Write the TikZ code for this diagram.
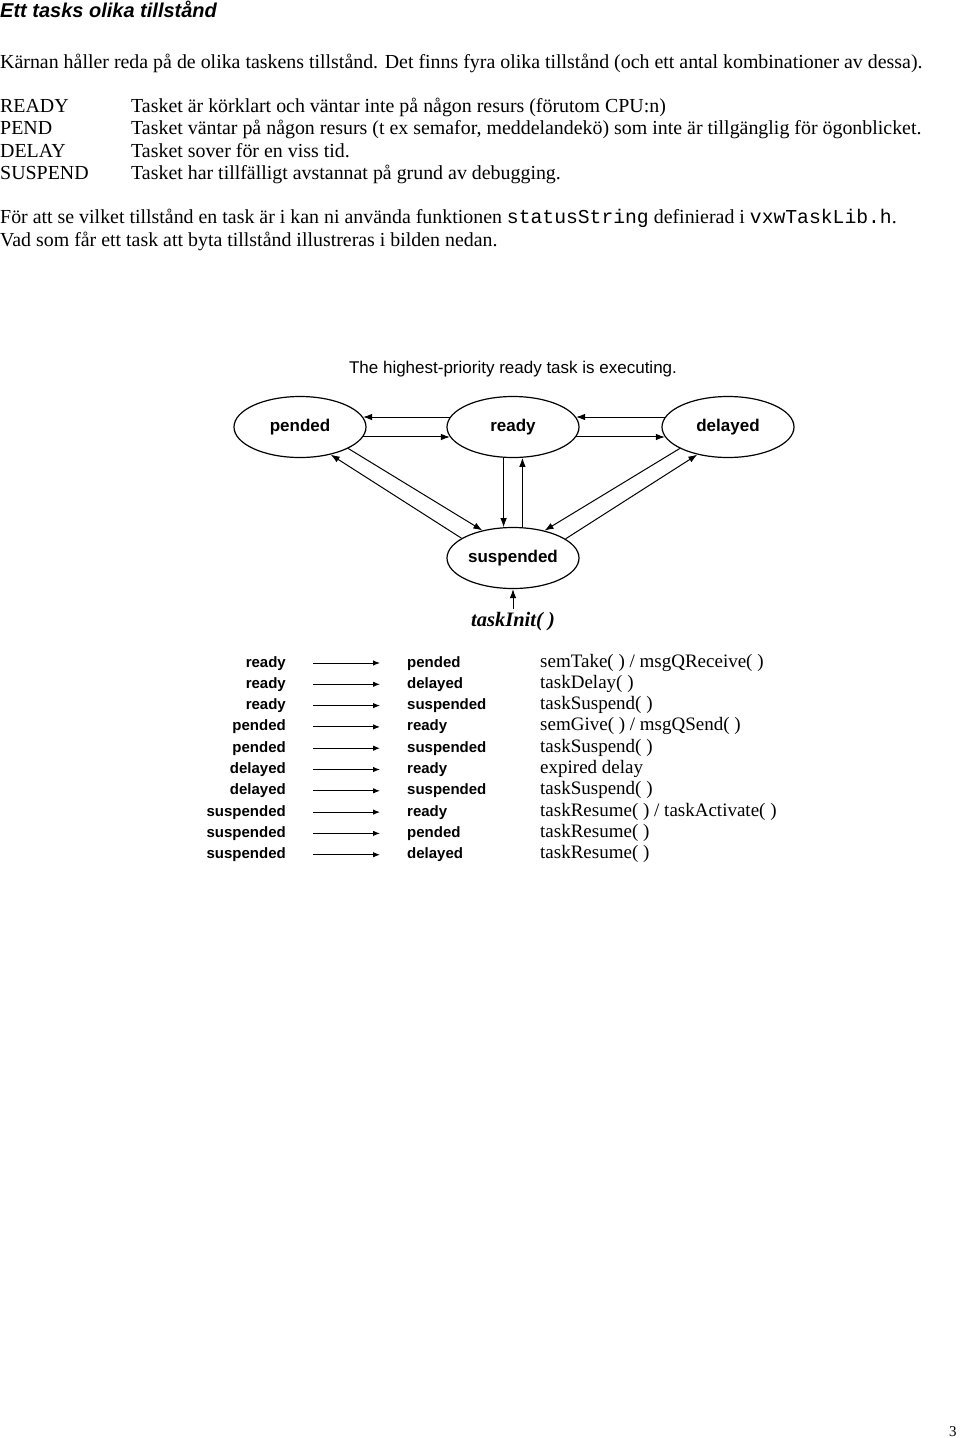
\documentclass[tikz,border=0pt]{standalone}
\usepackage{fontspec}
\setmainfont{Liberation Serif}
\setsansfont{Liberation Sans}
\setmonofont{Liberation Mono}
\usepackage{tikz}
\usetikzlibrary{shapes, arrows.meta}

\newcommand{\fsz}[1]{\fontsize{#1}{#1}\selectfont}
\newcommand{\code}[1]{{\fsz{19.7}\ttfamily #1}}

\begin{document}
\begin{tikzpicture}[x=1pt, y=-1pt,
        txt/.style = {anchor=base west, inner sep=0, font=\fsz{19.9}},
        main/.style = {draw, ellipse, line width=1.2pt, minimum width=132pt, minimum height=61pt,
                inner sep=0, font=\sffamily\bfseries\fsz{17}},
        edge/.style = {-{Latex[length=9pt, width=6.5pt]}, line width=1pt},
        lft/.style = {anchor=east, inner sep=0, text height=11pt, text depth=3pt, font=\sffamily\bfseries\fsz{15}},
        mid/.style = {anchor=west, inner sep=0, text height=11pt, text depth=3pt, font=\sffamily\bfseries\fsz{15}},
        fn/.style = {anchor=west, inner sep=0, text height=11pt, text depth=3pt, font=\fsz{19}},
        tarrow/.style = {-{Latex[length=7pt, width=5.5pt]}, line width=1pt, shorten <=27pt, shorten >=27pt}]
        \useasboundingbox (0, 0) rectangle (960, 1438);

        % text above the picture
        \node[txt, font=\sffamily\bfseries\itshape\fsz{20}] at (0, 17.5) (head) {Ett tasks olika tillstånd};
        \node[txt] at (0, 68) (intro) {Kärnan håller reda på de olika taskens tillstånd. Det finns fyra olika tillstånd (och ett antal kombinationer av dessa).};
        \node[txt] at (0, 112) (kready) {READY};
        \node[txt] at (131, 112) (dready) {Tasket är körklart och väntar inte på någon resurs (förutom CPU:n)};
        \node[txt] at (0, 134.5) (kpend) {PEND};
        \node[txt] at (131, 134.5) (dpend) {Tasket väntar på någon resurs (t ex semafor, meddelandekö) som inte är tillgänglig för ögonblicket.};
        \node[txt] at (0, 157) (kdelay) {DELAY};
        \node[txt] at (131, 157) (ddelay) {Tasket sover för en viss tid.};
        \node[txt] at (0, 179.5) (ksusp) {SUSPEND};
        \node[txt] at (131, 179.5) (dsusp) {Tasket har tillfälligt avstannat på grund av debugging.};
        \node[txt] at (0, 223) (hint) {För att se vilket tillstånd en task är i kan ni använda funktionen \code{statusString} definierad i \code{vxwTaskLib.h}.};
        \node[txt] at (0, 246) (hint2) {Vad som får ett task att byta tillstånd illustreras i bilden nedan.};

        % state diagram
        \node[font=\sffamily\fsz{17}] at (513, 369) (title) {The highest-priority ready task is executing.};
        \node[main] at (300, 427) (P) {pended};
        \node[main] at (513, 427) (R) {ready};
        \node[main] at (728, 427) (D) {delayed};
        \node[main] at (513, 558) (S) {suspended};
        \node[font=\bfseries\itshape\fsz{20.5}] at (513, 622) (init) {taskInit( )};

        \draw[edge] (R.171) -- (P.9);
        \draw[edge] (P.-9) -- (R.189);
        \draw[edge] (D.171) -- (R.9);
        \draw[edge] (R.-9) -- (D.189);
        \draw[edge] (R.253) -- (S.107);
        \draw[edge] (S.73) -- (R.287);
        \draw[edge] (P.-24.7) -- (S.138.6);
        \draw[edge] (S.159.4) -- (P.-42);
        \draw[edge] (D.204.7) -- (S.41.4);
        \draw[edge] (S.20.6) -- (D.222);
        \draw[edge] (init) -- (S);

        % table of transitions
        \node[lft] at (286, 663) (f1) {ready};
        \node[mid] at (407, 663) (t1) {pended};
        \node[fn] at (540, 663) (c1) {semTake( ) / msgQReceive( )};
        \node[lft] at (286, 684.3) (f2) {ready};
        \node[mid] at (407, 684.3) (t2) {delayed};
        \node[fn] at (540, 684.3) (c2) {taskDelay( )};
        \node[lft] at (286, 705.6) (f3) {ready};
        \node[mid] at (407, 705.6) (t3) {suspended};
        \node[fn] at (540, 705.6) (c3) {taskSuspend( )};
        \node[lft] at (286, 726.9) (f4) {pended};
        \node[mid] at (407, 726.9) (t4) {ready};
        \node[fn] at (540, 726.9) (c4) {semGive( ) / msgQSend( )};
        \node[lft] at (286, 748.2) (f5) {pended};
        \node[mid] at (407, 748.2) (t5) {suspended};
        \node[fn] at (540, 748.2) (c5) {taskSuspend( )};
        \node[lft] at (286, 769.5) (f6) {delayed};
        \node[mid] at (407, 769.5) (t6) {ready};
        \node[fn] at (540, 769.5) (c6) {expired delay};
        \node[lft] at (286, 790.8) (f7) {delayed};
        \node[mid] at (407, 790.8) (t7) {suspended};
        \node[fn] at (540, 790.8) (c7) {taskSuspend( )};
        \node[lft] at (286, 812.1) (f8) {suspended};
        \node[mid] at (407, 812.1) (t8) {ready};
        \node[fn] at (540, 812.1) (c8) {taskResume( ) / taskActivate( )};
        \node[lft] at (286, 833.4) (f9) {suspended};
        \node[mid] at (407, 833.4) (t9) {pended};
        \node[fn] at (540, 833.4) (c9) {taskResume( )};
        \node[lft] at (286, 854.7) (f10) {suspended};
        \node[mid] at (407, 854.7) (t10) {delayed};
        \node[fn] at (540, 854.7) (c10) {taskResume( )};

        \draw[tarrow] (f1) -- (t1);
        \draw[tarrow] (f2) -- (t2);
        \draw[tarrow] (f3) -- (t3);
        \draw[tarrow] (f4) -- (t4);
        \draw[tarrow] (f5) -- (t5);
        \draw[tarrow] (f6) -- (t6);
        \draw[tarrow] (f7) -- (t7);
        \draw[tarrow] (f8) -- (t8);
        \draw[tarrow] (f9) -- (t9);
        \draw[tarrow] (f10) -- (t10);

        \node[txt, font=\fsz{15}] at (949, 1436) (page) {3};
\end{tikzpicture}
\end{document}
